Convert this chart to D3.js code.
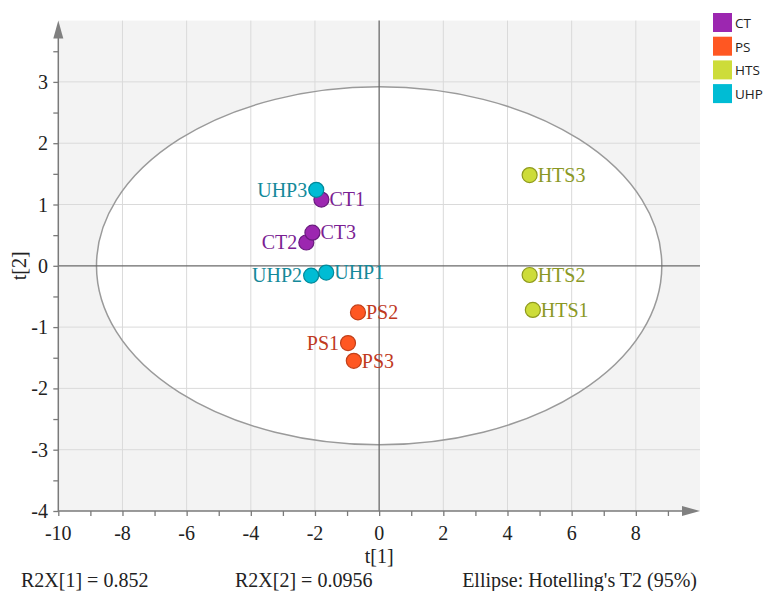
<!DOCTYPE html>
<html>
<head>
<meta charset="utf-8">
<script src="https://cdn.jsdelivr.net/npm/d3@7"></script>
<style>
  html, body { margin: 0; padding: 0; background: #fff; }
  svg { display: block; }
  text.serif { font-family: "Liberation Serif", "Times New Roman", serif; font-size: 20px; fill: #222; }
</style>
</head>
<body>
<svg id="chart" width="763" height="591"></svg>
<script>
// PCA score plot: samples by group
const groups = ["CT", "PS", "HTS", "UHP"];
const sampleNames = ["CT1", "CT2", "CT3", "PS1", "PS2", "PS3", "HTS1", "HTS2", "HTS3", "UHP1", "UHP2", "UHP3"];
const sampleGroups = ["CT", "CT", "CT", "PS", "PS", "PS", "HTS", "HTS", "HTS", "UHP", "UHP", "UHP"];
const t1Scores = [-1.80, -2.27, -2.08, -0.97, -0.66, -0.79, 4.79, 4.69, 4.69, -1.65, -2.12, -1.96];
const t2Scores = [1.08, 0.38, 0.54, -1.26, -0.76, -1.55, -0.72, -0.15, 1.48, -0.11, -0.16, 1.24];
const xTicks = [-10, -8, -6, -4, -2, 0, 2, 4, 6, 8];
const yTicks = [-4, -3, -2, -1, 0, 1, 2, 3];
const xMinorTicks = [-9, -7, -5, -3, -1, 1, 3, 5, 7, 9];
const yMinorTicks = [-3.5, -2.5, -1.5, -0.5, 0.5, 1.5, 2.5, 3.5];
const ellipseRadii = [8.81, 2.92]; // Hotelling's T2 (95%) semi-axes in t[1], t[2]
const footnotes = ["R2X[1] = 0.852", "R2X[2] = 0.0956", "Ellipse: Hotelling's T2 (95%)"];

// styling
const fillColor = { CT: "#9c27b0", PS: "#ff5722", HTS: "#cddc39", UHP: "#00bcd4" };
const strokeColor = { CT: "#6a1b7f", PS: "#c2401a", HTS: "#8f9a1e", UHP: "#00899a" };
const textColor = { CT: "#7b1f94", PS: "#c0391e", HTS: "#8a9824", UHP: "#14899a" };
const leftLabelled = new Set(["UHP3", "CT2", "UHP2", "PS1"]);

const svg = d3.select("#chart");
const x = d3.scaleLinear().domain([-10, 10]).range([58.3, 700]);
const y = d3.scaleLinear().domain([-4, 4]).range([511, 20.6]);
const axisColor = "#7a7a7a";

// plot background
svg.append("rect")
  .attr("x", x(-10)).attr("y", y(4))
  .attr("width", x(10) - x(-10)).attr("height", y(-4) - y(4))
  .attr("fill", "#f3f3f3");

// confidence ellipse (fill)
svg.append("ellipse")
  .attr("cx", x(0)).attr("cy", y(0))
  .attr("rx", x(ellipseRadii[0]) - x(0)).attr("ry", y(0) - y(ellipseRadii[1]))
  .attr("fill", "#ffffff");

// grid
const grid = svg.append("g").attr("stroke", "#dadada").attr("stroke-width", 1);
grid.selectAll("line.v").data(xTicks.filter(d => d !== -10 && d !== 0)).join("line")
  .attr("x1", d => x(d)).attr("x2", d => x(d))
  .attr("y1", y(4)).attr("y2", y(-4));
grid.selectAll("line.h").data(yTicks.filter(d => d !== -4 && d !== 0)).join("line")
  .attr("x1", x(-10)).attr("x2", x(10))
  .attr("y1", d => y(d)).attr("y2", d => y(d));

// ellipse outline
svg.append("ellipse")
  .attr("cx", x(0)).attr("cy", y(0))
  .attr("rx", x(ellipseRadii[0]) - x(0)).attr("ry", y(0) - y(ellipseRadii[1]))
  .attr("fill", "none").attr("stroke", "#9a9a9a").attr("stroke-width", 1.5);

// zero lines
svg.append("line")
  .attr("x1", x(0)).attr("x2", x(0)).attr("y1", y(4)).attr("y2", y(-4))
  .attr("stroke", "#6a6a6a").attr("stroke-width", 1.3);
svg.append("line")
  .attr("x1", x(-10)).attr("x2", x(10)).attr("y1", y(0)).attr("y2", y(0))
  .attr("stroke", "#6a6a6a").attr("stroke-width", 1.3);

// tick marks from d3 axes
function styleTicks(g) {
  g.select(".domain").remove();
  g.selectAll(".tick line").attr("stroke", axisColor).attr("stroke-width", 1.3);
  g.selectAll(".tick text").remove();
}
svg.append("g").attr("transform", `translate(0,${y(-4)})`)
  .call(d3.axisBottom(x).tickValues(xTicks.concat(xMinorTicks)).tickSize(5).tickFormat(""))
  .call(styleTicks);
svg.append("g").attr("transform", `translate(${x(-10)},0)`)
  .call(d3.axisLeft(y).tickValues(yTicks.concat(yMinorTicks)).tickSize(5).tickFormat(""))
  .call(styleTicks);

// tick labels
svg.append("g").selectAll("text").data(xTicks).join("text")
  .attr("class", "serif")
  .attr("x", d => x(d)).attr("y", 540)
  .attr("text-anchor", "middle")
  .text(d => String(d));
svg.append("g").selectAll("text").data(yTicks).join("text")
  .attr("class", "serif")
  .attr("x", 48).attr("y", d => y(d) + 7)
  .attr("text-anchor", "end")
  .text(d => String(d));

// axis lines with arrow heads
svg.append("line")
  .attr("x1", x(-10)).attr("x2", x(10) - 14).attr("y1", y(-4)).attr("y2", y(-4))
  .attr("stroke", axisColor).attr("stroke-width", 1.5);
svg.append("line")
  .attr("x1", x(-10)).attr("x2", x(-10)).attr("y1", y(-4)).attr("y2", y(4) + 14)
  .attr("stroke", axisColor).attr("stroke-width", 1.5);
svg.append("path")
  .attr("d", `M${x(10)},${y(-4)} L${x(10) - 18},${y(-4) - 5} L${x(10) - 18},${y(-4) + 5} Z`)
  .attr("fill", "#808080");
svg.append("path")
  .attr("d", `M${x(-10)},${y(4)} L${x(-10) - 5},${y(4) + 18} L${x(-10) + 5},${y(4) + 18} Z`)
  .attr("fill", "#808080");

// axis titles
svg.append("text").attr("class", "serif")
  .attr("x", x(0)).attr("y", 563).attr("text-anchor", "middle")
  .text("t[1]");
svg.append("text").attr("class", "serif")
  .attr("transform", `translate(26,${y(0)}) rotate(-90)`).attr("text-anchor", "middle")
  .text("t[2]");

// samples
const samples = sampleNames.map((name, i) => ({
  name, group: sampleGroups[i], t1: t1Scores[i], t2: t2Scores[i]
}));
const pts = svg.append("g");
pts.selectAll("circle").data(samples).join("circle")
  .attr("cx", d => x(d.t1)).attr("cy", d => y(d.t2)).attr("r", 7.5)
  .attr("fill", d => fillColor[d.group])
  .attr("stroke", d => strokeColor[d.group]).attr("stroke-width", 1.2);
pts.selectAll("text").data(samples).join("text")
  .attr("class", "serif")
  .attr("x", d => x(d.t1) + (leftLabelled.has(d.name) ? -9 : 8))
  .attr("y", d => y(d.t2) + 6.8)
  .attr("text-anchor", d => leftLabelled.has(d.name) ? "end" : "start")
  .style("fill", d => textColor[d.group])
  .text(d => d.name);

// legend
const legend = svg.append("g").attr("transform", "translate(713,13)");
const item = legend.selectAll("g").data(groups).join("g")
  .attr("transform", (d, i) => `translate(0,${i * 23.7})`);
item.append("rect").attr("width", 19).attr("height", 19)
  .attr("fill", d => fillColor[d]);
item.append("text").attr("x", 22).attr("y", 15)
  .style("font-family", "'Open Sans', 'Noto Sans', sans-serif").style("font-size", "13.5px")
  .attr("fill", "#222").text(d => d);

// footnotes
const foot = svg.append("g");
foot.append("text").attr("class", "serif").attr("x", 21).attr("y", 587).text(footnotes[0]);
foot.append("text").attr("class", "serif").attr("x", 235).attr("y", 587).text(footnotes[1]);
foot.append("text").attr("class", "serif").attr("x", 697).attr("y", 587).attr("text-anchor", "end").text(footnotes[2]);
</script>
</body>
</html>
